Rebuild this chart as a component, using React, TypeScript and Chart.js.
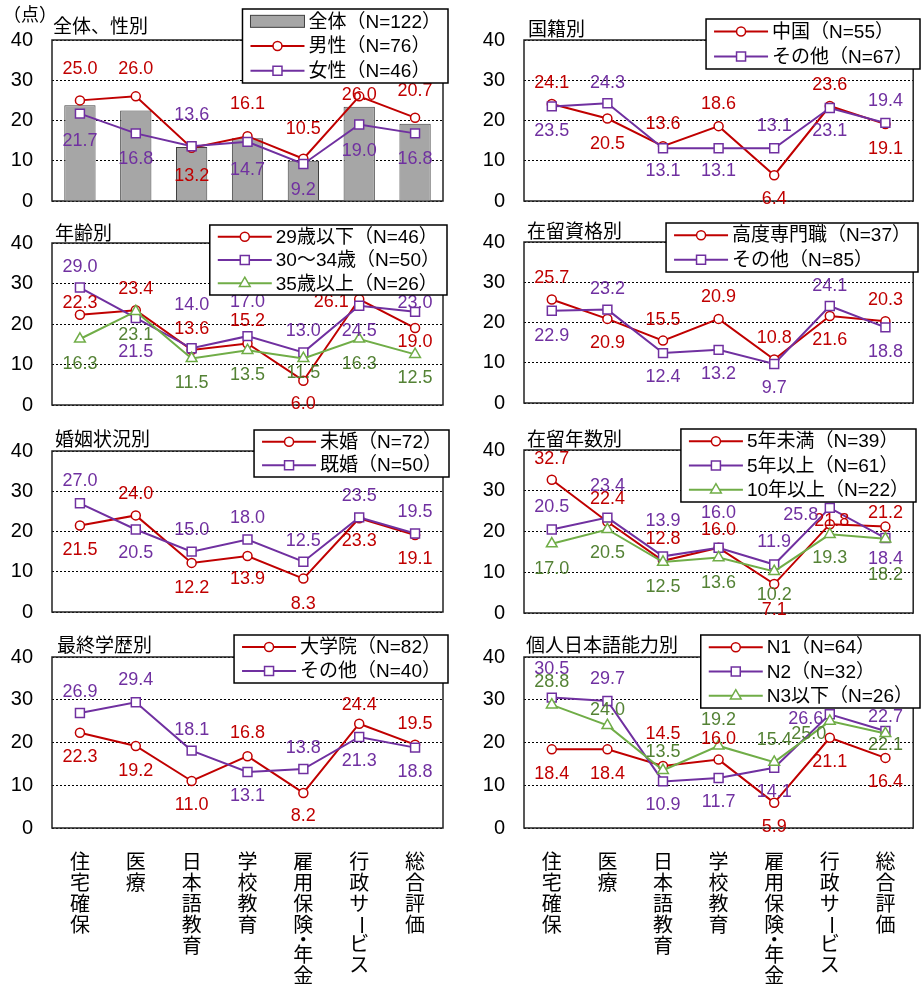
import React, { useEffect, useRef } from 'react';
import { Chart, registerables } from 'chart.js';

Chart.register(...registerables);

const FONT = '"Liberation Sans", "Noto Sans CJK JP", sans-serif';

const categories = ['住宅確保', '医療', '日本語教育', '学校教育', '雇用保険・年金', '行政サービス', '総合評価'];
const yMin = 0;
const yMax = 40;
const yStep = 10;

// 全体、性別
const totalAll = [23.8, 22.5, 13.4, 15.6, 10.0, 23.4, 19.2];
const male = [25.0, 26.0, 13.2, 16.1, 10.5, 26.0, 20.7];
const female = [21.7, 16.8, 13.6, 14.7, 9.2, 19.0, 16.8];
// 国籍別
const china = [24.1, 20.5, 13.6, 18.6, 6.4, 23.6, 19.1];
const otherNat = [23.5, 24.3, 13.1, 13.1, 13.1, 23.1, 19.4];
// 年齢別
const age29 = [22.3, 23.4, 13.6, 15.2, 6.0, 26.1, 19.0];
const age30 = [29.0, 21.5, 14.0, 17.0, 13.0, 24.5, 23.0];
const age35 = [16.3, 23.1, 11.5, 13.5, 11.5, 16.3, 12.5];
// 在留資格別
const highSkill = [25.7, 20.9, 15.5, 20.9, 10.8, 21.6, 20.3];
const otherStatus = [22.9, 23.2, 12.4, 13.2, 9.7, 24.1, 18.8];
// 婚姻状況別
const single = [21.5, 24.0, 12.2, 13.9, 8.3, 23.3, 19.1];
const married = [27.0, 20.5, 15.0, 18.0, 12.5, 23.5, 19.5];
// 在留年数別
const under5 = [32.7, 22.4, 12.8, 16.0, 7.1, 21.8, 21.2];
const over5 = [20.5, 23.4, 13.9, 16.0, 11.9, 25.8, 18.4];
const over10 = [17.0, 20.5, 12.5, 13.6, 10.2, 19.3, 18.2];
// 最終学歴別
const graduate = [22.3, 19.2, 11.0, 16.8, 8.2, 24.4, 19.5];
const otherEdu = [26.9, 29.4, 18.1, 13.1, 13.8, 21.3, 18.8];
// 個人日本語能力別
const n1 = [18.4, 18.4, 14.5, 16.0, 5.9, 21.1, 16.4];
const n2 = [30.5, 29.7, 10.9, 11.7, 14.1, 26.6, 22.7];
const n3 = [28.8, 24.0, 13.5, 19.2, 15.4, 25.0, 22.1];

// label offsets (px) relative to each point
const maleDy = [-31, -27, 28, -32, -30, -1, -27];
const femaleDy = [27, 26, -31, 28, 26, 27, 26];
const chinaDy = [-21, 26, -22, -22, 24, -21, 25];
const otherNatDy = [25, -20, 23, 23, -22, 23, -22];
const age29Dy = [-12, -21, -21, -22, 23, 3, 14];
const age29Dx = [0, 0, 0, 0, 0, -28, 0];
const age30Dy = [-21, 34, -43, -34, -21, 25, -9];
const age35Dy = [25, 24, 25, 25, 15, 25, 24];
const highSkillDy = [-22, 24, -21, -22, -21, 24, -21];
const otherStatusDy = [25, -21, 24, 24, 24, -20, 25];
const singleDy = [25, -21, 25, 23, 25, 23, 24];
const marriedDy = [-22, 24, -22, -22, -21, -21, -21];
const under5Dy = [-21, -23, -22, -18, 26, -3, -14];
const under5Dx = [0, 0, 0, 0, 0, 2, 0];
const over5Dy = [-22, -32, -35, -35, -22, 7, 21];
const over5Dx = [0, 0, 0, 0, 0, -29, 0];
const over10Dy = [25, 24, 25, 25, 24, 24, 36];
const graduateDy = [24, 25, 24, -23, 23, -19, -21];
const otherEduDy = [-21, -22, -21, 24, -21, 24, 24];
const n1Dy = [25, 25, -32, -21, 24, 24, 24];
const n2Dy = [-29, -22, 24, 24, 24, 5, -14];
const n2Dx = [0, 0, 0, 0, 0, -24, 0];
const n3Dy = [-23, -15, -18, -26, -22, 13, 12];
const n3Dx = [0, 0, 0, 0, 0, -21, 0];

const RED = '#C00000';
const PURPLE = '#7030A0';
const GREEN = '#70AD47';
const GREEN_TEXT = '#548235';

type Kind = 'bar' | 'circle' | 'rect' | 'triangle';
type Series = { label: string; data: number[]; kind: Kind; color: string; textColor: string; dy?: number[]; dx?: number[] };
type Panel = {
  title: string; col: 0 | 1; top: number; bottom: number; titleX: number; titleY: number;
  legendRight: number; legendTop: number; legendH: number; unit?: boolean; showX?: boolean; series: Series[];
};

const panels: Panel[] = [
  {
    title: '全体、性別', col: 0, top: 40, bottom: 207, titleX: 53, titleY: 28, legendRight: 448, legendTop: 9, legendH: 74, unit: true,
    series: [
      { label: '全体（N=122）', data: totalAll, kind: 'bar', color: '#A6A6A6', textColor: '#000' },
      { label: '男性（N=76）', data: male, kind: 'circle', color: RED, textColor: RED, dy: maleDy },
      { label: '女性（N=46）', data: female, kind: 'rect', color: PURPLE, textColor: PURPLE, dy: femaleDy },
    ],
  },
  {
    title: '国籍別', col: 1, top: 40, bottom: 207, titleX: 528, titleY: 31, legendRight: 920, legendTop: 19, legendH: 50,
    series: [
      { label: '中国（N=55）', data: china, kind: 'circle', color: RED, textColor: RED, dy: chinaDy },
      { label: 'その他（N=67）', data: otherNat, kind: 'rect', color: PURPLE, textColor: PURPLE, dy: otherNatDy },
    ],
  },
  {
    title: '年齢別', col: 0, top: 243, bottom: 411, titleX: 55, titleY: 235, legendRight: 447, legendTop: 225, legendH: 70,
    series: [
      { label: '29歳以下（N=46）', data: age29, kind: 'circle', color: RED, textColor: RED, dy: age29Dy, dx: age29Dx },
      { label: '30〜34歳（N=50）', data: age30, kind: 'rect', color: PURPLE, textColor: PURPLE, dy: age30Dy },
      { label: '35歳以上（N=26）', data: age35, kind: 'triangle', color: GREEN, textColor: GREEN_TEXT, dy: age35Dy },
    ],
  },
  {
    title: '在留資格別', col: 1, top: 242, bottom: 409, titleX: 527, titleY: 233, legendRight: 918, legendTop: 223, legendH: 49,
    series: [
      { label: '高度専門職（N=37）', data: highSkill, kind: 'circle', color: RED, textColor: RED, dy: highSkillDy },
      { label: 'その他（N=85）', data: otherStatus, kind: 'rect', color: PURPLE, textColor: PURPLE, dy: otherStatusDy },
    ],
  },
  {
    title: '婚姻状況別', col: 0, top: 451, bottom: 618, titleX: 55, titleY: 441, legendRight: 449, legendTop: 430, legendH: 47,
    series: [
      { label: '未婚（N=72）', data: single, kind: 'circle', color: RED, textColor: RED, dy: singleDy },
      { label: '既婚（N=50）', data: married, kind: 'rect', color: PURPLE, textColor: PURPLE, dy: marriedDy },
    ],
  },
  {
    title: '在留年数別', col: 1, top: 450, bottom: 619, titleX: 527, titleY: 441, legendRight: 916, legendTop: 429, legendH: 73,
    series: [
      { label: '5年未満（N=39）', data: under5, kind: 'circle', color: RED, textColor: RED, dy: under5Dy, dx: under5Dx },
      { label: '5年以上（N=61）', data: over5, kind: 'rect', color: PURPLE, textColor: PURPLE, dy: over5Dy, dx: over5Dx },
      { label: '10年以上（N=22）', data: over10, kind: 'triangle', color: GREEN, textColor: GREEN_TEXT, dy: over10Dy },
    ],
  },
  {
    title: '最終学歴別', col: 0, top: 657, bottom: 828, titleX: 57, titleY: 647, legendRight: 448, legendTop: 635, legendH: 48, showX: true,
    series: [
      { label: '大学院（N=82）', data: graduate, kind: 'circle', color: RED, textColor: RED, dy: graduateDy },
      { label: 'その他（N=40）', data: otherEdu, kind: 'rect', color: PURPLE, textColor: PURPLE, dy: otherEduDy },
    ],
  },
  {
    title: '個人日本語能力別', col: 1, top: 657, bottom: 828, titleX: 526, titleY: 647, legendRight: 920, legendTop: 635, legendH: 73, showX: true,
    series: [
      { label: 'N1（N=64）', data: n1, kind: 'circle', color: RED, textColor: RED, dy: n1Dy },
      { label: 'N2（N=32）', data: n2, kind: 'rect', color: PURPLE, textColor: PURPLE, dy: n2Dy, dx: n2Dx },
      { label: 'N3以下（N=26）', data: n3, kind: 'triangle', color: GREEN, textColor: GREEN_TEXT, dy: n3Dy, dx: n3Dx },
    ],
  },
];

const POINT_R: Record<string, number> = { circle: 4.5, rect: 6.3, triangle: 6.2 };

function drawMarker(ctx: CanvasRenderingContext2D, kind: Kind, x: number, y: number, color: string) {
  ctx.save();
  ctx.fillStyle = '#fff';
  ctx.strokeStyle = color;
  ctx.lineWidth = 1.5;
  ctx.beginPath();
  if (kind === 'circle') {
    ctx.arc(x, y, 4.5, 0, Math.PI * 2);
  } else if (kind === 'rect') {
    ctx.rect(x - 4.5, y - 4.5, 9, 9);
  } else if (kind === 'triangle') {
    const r = 6.2;
    ctx.moveTo(x, y - r);
    ctx.lineTo(x + r * 0.866, y + r * 0.5);
    ctx.lineTo(x - r * 0.866, y + r * 0.5);
    ctx.closePath();
  }
  ctx.fill();
  ctx.stroke();
  ctx.restore();
}

function geometry(p: Panel) {
  const x = p.col === 0 ? 0 : 460;
  const w = p.col === 0 ? 460 : 461;
  const axisW = p.col === 0 ? 52 : 64;
  const padRight = p.col === 0 ? 17 : 6;
  const y = p.top - 40;
  const h = p.showX ? 990 - y : p.bottom + 25 - y;
  const padBottom = h - (p.bottom - y);
  return { x, y, w, h, axisW, padRight, padBottom };
}

function advanceOf(ch: string) {
  if (ch === '・') return 9;
  if (ch === 'ー') return 19;
  return 21;
}

function PanelChart({ p }: { p: Panel }) {
  const ref = useRef<HTMLCanvasElement | null>(null);
  const g = geometry(p);
  useEffect(() => {
    const ox = g.x;
    const oy = g.y;
    const deco = {
      id: 'deco',
      beforeDatasetsDraw(chart: any) {
        const { ctx, chartArea: a } = chart;
        ctx.save();
        ctx.strokeStyle = '#222';
        ctx.lineWidth = 1.5;
        ctx.strokeRect(a.left, a.top, a.right - a.left, a.bottom - a.top);
        ctx.restore();
      },
      afterDatasetsDraw(chart: any) {
        const ctx: CanvasRenderingContext2D = chart.ctx;
        ctx.save();
        ctx.font = `18px ${FONT}`;
        ctx.textAlign = 'center';
        ctx.textBaseline = 'middle';
        p.series.forEach((s, si) => {
          if (s.kind === 'bar') return;
          const meta = chart.getDatasetMeta(si);
          meta.data.forEach((el: any, i: number) => {
            ctx.fillStyle = s.textColor;
            const dx = s.dx ? s.dx[i] : 0;
            const dy = s.dy ? s.dy[i] : -22;
            ctx.fillText(s.data[i].toFixed(1), el.x + dx, el.y + dy);
          });
        });
        ctx.restore();
      },
      afterDraw(chart: any) {
        const ctx: CanvasRenderingContext2D = chart.ctx;
        ctx.save();
        // title
        ctx.fillStyle = '#000';
        ctx.textBaseline = 'middle';
        ctx.textAlign = 'left';
        ctx.font = `19px ${FONT}`;
        ctx.fillText(p.title, p.titleX - ox, p.titleY - oy);
        if (p.unit) {
          ctx.font = `18px ${FONT}`;
          ctx.fillText('（点）', 3 - ox, 16 - oy);
        }
        // legend
        ctx.font = `19px ${FONT}`;
        let tw = 0;
        p.series.forEach((s) => { tw = Math.max(tw, ctx.measureText(s.label).width); });
        const rowH = p.legendH / p.series.length;
        const bw = 66 + tw + 7;
        const bh = p.legendH;
        const bx = p.legendRight - ox - bw;
        const by = p.legendTop - oy;
        ctx.fillStyle = '#fff';
        ctx.fillRect(bx, by, bw, bh);
        ctx.strokeStyle = '#000';
        ctx.lineWidth = 1.5;
        ctx.strokeRect(bx, by, bw, bh);
        p.series.forEach((s, i) => {
          const cy = by + rowH * i + rowH / 2;
          if (s.kind === 'bar') {
            ctx.fillStyle = '#A6A6A6';
            ctx.fillRect(bx + 8, cy - 6, 54, 12);
            ctx.strokeStyle = '#404040';
            ctx.lineWidth = 1;
            ctx.strokeRect(bx + 8, cy - 6, 54, 12);
          } else {
            ctx.strokeStyle = s.color;
            ctx.lineWidth = 2;
            ctx.beginPath();
            ctx.moveTo(bx + 8, cy);
            ctx.lineTo(bx + 62, cy);
            ctx.stroke();
            drawMarker(ctx, s.kind, bx + 35, cy, s.color);
          }
          ctx.fillStyle = '#000';
          ctx.textAlign = 'left';
          ctx.textBaseline = 'middle';
          ctx.fillText(s.label, bx + 66, cy + 1);
        });
        // vertical category labels
        if (p.showX) {
          const xs = chart.scales.x;
          ctx.font = `20px ${FONT}`;
          ctx.fillStyle = '#000';
          ctx.textAlign = 'center';
          ctx.textBaseline = 'middle';
          categories.forEach((c, i) => {
            const x = xs.getPixelForValue(i);
            const chars = Array.from(c);
            let y = 863 - oy;
            chars.forEach((ch, k) => {
              if (k > 0) y += advanceOf(chars[k - 1]) / 2 + advanceOf(ch) / 2;
              if (ch === 'ー') {
                ctx.save();
                ctx.translate(x, y);
                ctx.rotate(Math.PI / 2);
                ctx.fillText(ch, 0, 0);
                ctx.restore();
              } else {
                ctx.fillText(ch, x, y);
              }
            });
          });
        }
        ctx.restore();
      },
    };

    const n = p.series.length;
    const datasets: any[] = p.series.map((s, si) =>
      s.kind === 'bar'
        ? {
            type: 'bar', label: s.label, data: s.data, backgroundColor: '#A6A6A6', borderColor: '#404040',
            borderWidth: 1, barPercentage: 0.56, categoryPercentage: 1, order: 10,
          }
        : {
            type: 'line', label: s.label, data: s.data, borderColor: s.color, borderWidth: 2,
            pointStyle: s.kind, pointRadius: POINT_R[s.kind], pointBackgroundColor: '#fff',
            pointBorderColor: s.color, pointBorderWidth: 1.5, tension: 0, fill: false, order: n - si,
          }
    );

    const chart = new Chart(ref.current as HTMLCanvasElement, {
      type: 'line',
      data: { labels: categories, datasets },
      options: {
        responsive: false,
        animation: false,
        devicePixelRatio: 1,
        layout: { padding: { top: 40, left: 0, right: g.padRight, bottom: g.padBottom } },
        plugins: { legend: { display: false }, tooltip: { enabled: false }, title: { display: false } },
        scales: {
          x: { type: 'category', offset: true, display: false, grid: { display: false } },
          y: {
            min: yMin, max: yMax,
            ticks: { stepSize: yStep, padding: 19, color: '#000', font: { size: 20, family: FONT } },
            grid: { color: '#000', lineWidth: 1, drawTicks: false },
            border: { display: false, dash: [2, 2] },
            afterFit: (scale: any) => { scale.width = g.axisW; },
          },
        },
      } as any,
      plugins: [deco],
    } as any);
    return () => chart.destroy();
  }, []);
  return (
    <canvas
      ref={ref}
      width={g.w}
      height={g.h}
      style={{ position: 'absolute', left: g.x, top: g.y, width: g.w, height: g.h }}
    />
  );
}

export default function App() {
  return (
    <div style={{ position: 'absolute', left: 0, top: 0, width: 921, height: 990, background: '#fff', overflow: 'hidden' }}>
      {panels.map((p, i) => (
        <PanelChart key={i} p={p} />
      ))}
    </div>
  );
}
